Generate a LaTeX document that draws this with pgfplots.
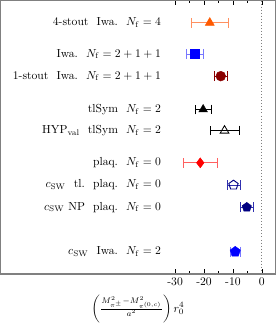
\documentclass[border=0pt]{standalone}
\usepackage{pgfplots}
\pgfplotsset{compat=1.18}
\definecolor{cOrange}{HTML}{FF5A00}
\definecolor{cOrangeL}{HTML}{FF9060}
\definecolor{cBlue}{HTML}{0000FF}
\definecolor{cBlueL}{HTML}{7878FF}
\definecolor{cDRed}{HTML}{8B0000}
\definecolor{cRed}{HTML}{FF0000}
\definecolor{cRedL}{HTML}{FF6060}
\definecolor{cNavy}{HTML}{000080}
\definecolor{cNavyL}{HTML}{3030B0}
\begin{document}
\begin{tikzpicture}
\begin{axis}[
  width=236pt, height=235pt, scale only axis,
  xmin=-90.4, xmax=4.6,
  ymin=0, ymax=12.3, y dir=reverse,
  ytick=\empty,
  xtick={-30,-20,-10,0},
  xticklabels={-30,-20,-10,0},
  minor xtick={-25,-15,-5},
  tick align=inside,
  major tick length=4pt, minor tick length=2.5pt,
  axis line style={draw=gray, line width=1pt},
  every tick/.style={black, line width=0.5pt},
  clip=false,
  xlabel={$\left(\frac{M^2_{\pi^\pm}-M^2_{\pi^{(0,c)}}}{a^2}\right) r_0^4$},
  xlabel style={yshift=-1pt},
  error bars/error bar style={line width=0.6pt},
]
\addplot[gray, dotted, line width=0.6pt] coordinates {(0,0) (0,12.3)};
% 4-stout Iwa Nf=4
\addplot[only marks, mark=triangle*, mark size=4.5pt, color=cOrange,
  error bars/.cd, x dir=both, x explicit, error bar style={cOrangeL}, error mark options={rotate=90, mark size=4.2pt, cOrangeL}]
  coordinates {(-18.0,1) +- (6.4,0)};
% Iwa 2+1+1
\addplot[only marks, mark=square*, mark size=3.9pt, color=cBlue,
  error bars/.cd, x dir=both, x explicit, error bar style={cBlueL}, error mark options={rotate=90, mark size=4.2pt, cBlueL}]
  coordinates {(-23.2,2.4) +- (3.0,0)};
% 1-stout Iwa 2+1+1
\addplot[only marks, mark=*, mark size=4.2pt, color=cDRed,
  error bars/.cd, x dir=both, x explicit, error mark options={rotate=90, mark size=4.2pt}]
  coordinates {(-14.2,3.4) +- (2.1,0)};
% tlSym Nf=2
\addplot[only marks, mark=triangle*, mark size=4.3pt, color=black,
  error bars/.cd, x dir=both, x explicit, error mark options={rotate=90, mark size=4.2pt}]
  coordinates {(-20.3,4.9) +- (2.8,0)};
% HYP tlSym Nf=2
\addplot[only marks, mark=triangle, mark size=4.3pt, color=black, mark options={line width=0.7pt},
  error bars/.cd, x dir=both, x explicit, error mark options={rotate=90, mark size=4.2pt}]
  coordinates {(-12.9,5.85) +- (5.0,0)};
% plaq Nf=0
\addplot[only marks, mark=diamond*, mark size=4.3pt, color=cRed,
  error bars/.cd, x dir=both, x explicit, error bar style={cRedL}, error mark options={rotate=90, mark size=4.2pt, cRedL}]
  coordinates {(-21.3,7.3) +- (6.0,0)};
% cSW tl plaq Nf=0
\addplot[only marks, mark=pentagon, mark size=4.2pt, color=cNavy, mark options={line width=0.8pt},
  error bars/.cd, x dir=both, x explicit, error bar style={cNavyL}, error mark options={rotate=90, mark size=4.2pt, cNavyL}]
  coordinates {(-9.8,8.3) +- (2.2,0)};
% cSW NP plaq Nf=0
\addplot[only marks, mark=pentagon*, mark size=4.2pt, color=cNavy,
  error bars/.cd, x dir=both, x explicit, error bar style={cNavyL}, error mark options={rotate=90, mark size=4.2pt, cNavyL}]
  coordinates {(-5.2,9.3) +- (2.4,0)};
% cSW Iwa Nf=2
\addplot[only marks, mark=pentagon*, mark size=4.6pt, color=cBlue,
  error bars/.cd, x dir=both, x explicit, error bar style={cBlueL}, error mark options={rotate=90, mark size=4.2pt, cBlueL}]
  coordinates {(-9.2,11.3) +- (1.8,0)};
\def\sp{\hspace{0.7em}}
\node[anchor=east] at (axis cs:-33.5,1) {4-stout\sp Iwa.\sp $N_\mathrm{f}=4$};
\node[anchor=east] at (axis cs:-33.5,2.4) {Iwa.\sp $N_\mathrm{f}=2+1+1$};
\node[anchor=east] at (axis cs:-33.5,3.4) {1-stout\sp Iwa.\sp $N_\mathrm{f}=2+1+1$};
\node[anchor=east] at (axis cs:-33.5,4.9) {tlSym\sp $N_\mathrm{f}=2$};
\node[anchor=east] at (axis cs:-33.5,5.85) {HYP$_\mathrm{val}$\sp tlSym\sp $N_\mathrm{f}=2$};
\node[anchor=east] at (axis cs:-33.5,7.3) {plaq.\sp $N_\mathrm{f}=0$};
\node[anchor=east] at (axis cs:-33.5,8.3) {$c_\mathrm{SW}$\sp tl.\sp plaq.\sp $N_\mathrm{f}=0$};
\node[anchor=east] at (axis cs:-33.5,9.3) {$c_\mathrm{SW}$ NP\sp plaq.\sp $N_\mathrm{f}=0$};
\node[anchor=east] at (axis cs:-33.5,11.3) {$c_\mathrm{SW}$\sp Iwa.\sp $N_\mathrm{f}=2$};
\end{axis}
\end{tikzpicture}
\end{document}
